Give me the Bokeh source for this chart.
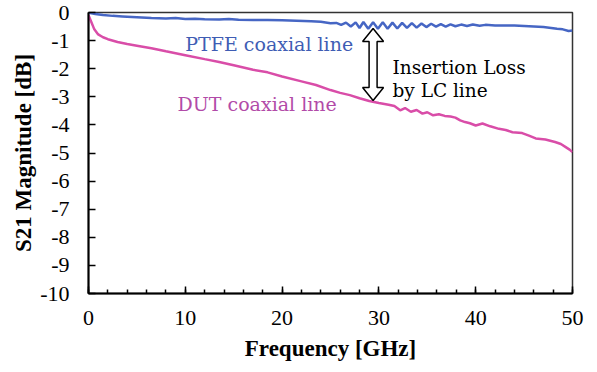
from bokeh.plotting import figure
from bokeh.models import Range1d, SingleIntervalTicker
from bokeh.core.properties import value
from bokeh.embed import file_html
from bokeh.resources import INLINE

# ---- data ----
ptfe_freq = [0, 0.3, 0.7, 1.5, 2.5, 3.5, 5, 6.5, 8, 9, 10, 11, 12, 13.5, 14.5, 15.5, 17, 18.5, 20,
             21.5, 23, 24, 25, 25.6, 26.1, 26.6, 27.1, 27.6, 28.0, 28.4, 28.9, 29.4, 29.9, 30.4,
             30.9, 31.4, 31.9, 32.4, 32.9, 33.4, 33.9, 34.4, 34.9, 35.4, 35.9, 36.4, 36.9, 37.4,
             37.9, 38.5, 39.1, 39.7, 40.4, 41, 42, 43, 44, 45, 46, 47, 47.8, 48.4, 49, 49.6, 50]
ptfe_s21 = [0, -0.03, -0.05, -0.09, -0.12, -0.14, -0.17, -0.2, -0.21, -0.2, -0.23, -0.22, -0.24,
            -0.25, -0.23, -0.26, -0.27, -0.27, -0.28, -0.29, -0.31, -0.33, -0.38, -0.37, -0.44,
            -0.36, -0.5, -0.35, -0.55, -0.34, -0.58, -0.35, -0.58, -0.35, -0.58, -0.36, -0.57,
            -0.37, -0.55, -0.38, -0.54, -0.39, -0.52, -0.4, -0.5, -0.41, -0.5, -0.42, -0.49,
            -0.43, -0.48, -0.43, -0.47, -0.44, -0.46, -0.46, -0.46, -0.48, -0.5, -0.52, -0.55,
            -0.58, -0.6, -0.66, -0.64]

dut_freq = [0, 0.3, 0.6, 1, 1.5, 2, 3, 4, 5, 6.5, 8, 10, 12, 13.5, 15, 17, 18.5, 20, 22, 23.5,
            25, 26, 27, 28, 29, 30, 31, 31.6, 32.2, 32.7, 33.3, 33.9, 34.5, 35, 35.6, 36.2, 36.8,
            37.4, 37.9, 38.4, 38.9, 39.4, 40, 40.7, 41.5, 42.4, 43.1, 43.8, 44.8, 45.5, 46.2,
            47.2, 48.2, 48.8, 49.3, 49.7, 50]
dut_s21 = [-0.1, -0.35, -0.6, -0.78, -0.88, -0.95, -1.05, -1.12, -1.18, -1.27, -1.38, -1.52,
           -1.66, -1.76, -1.88, -2.04, -2.13, -2.28, -2.45, -2.58, -2.76, -2.86, -2.94, -3.05,
           -3.15, -3.22, -3.28, -3.33, -3.48, -3.4, -3.53, -3.47, -3.6, -3.55, -3.66, -3.62,
           -3.68, -3.7, -3.74, -3.84, -3.9, -3.94, -4.02, -3.95, -4.05, -4.14, -4.18, -4.26,
           -4.29, -4.38, -4.48, -4.52, -4.61, -4.68, -4.79, -4.88, -4.97]

x_ticks = [0, 10, 20, 30, 40, 50]
y_ticks = [0, -1, -2, -3, -4, -5, -6, -7, -8, -9, -10]
y_tick_labels = ["0", "-1", "-2", "-3", "-4", "-5", "-6", "-7", "-8", "-9", "-10"]

# annotation anchors (data units)
arrow_f = 29.4
arrow_top = -0.57
arrow_bottom = -3.13

BLUE = "#4666C4"
BLUE_TXT = "#3F5DB4"
PINK = "#D94DA8"
PINK_TXT = "#B24BA8"

p = figure(width=597, height=372, output_backend="svg", toolbar_location=None,
           x_range=Range1d(0, 50), y_range=Range1d(-10, 0),
           min_border_left=88, min_border_right=25, min_border_top=12, min_border_bottom=79)
p.background_fill_color = "white"
p.border_fill_color = "white"
p.outline_line_color = "#333333"
p.outline_line_width = 1.5
p.xgrid.visible = False
p.ygrid.visible = False

xa = p.xaxis[0]
xa.ticker = SingleIntervalTicker(interval=10, num_minor_ticks=5)
xa.major_tick_in = 7
xa.major_tick_out = 0
xa.minor_tick_in = 4
xa.minor_tick_out = 0
xa.axis_line_width = 2
xa.major_tick_line_width = 1.5
xa.minor_tick_line_width = 1.5
xa.major_label_text_font = "Liberation Serif"
xa.major_label_text_font_size = "22px"
xa.major_label_text_color = "black"
xa.major_label_standoff = 17
xa.axis_label = "Frequency [GHz]"
xa.axis_label_text_font = "Liberation Serif"
xa.axis_label_text_font_style = "bold"
xa.axis_label_text_font_size = "23px"
xa.axis_label_text_color = "black"
xa.axis_label_standoff = 8

ya = p.yaxis[0]
ya.ticker = y_ticks
ya.major_label_overrides = {t: l for t, l in zip(y_ticks, y_tick_labels)}
ya.major_tick_in = 7
ya.major_tick_out = 0
ya.minor_tick_line_color = None
ya.axis_line_width = 2
ya.major_tick_line_width = 1.5
ya.major_label_text_font = "Liberation Serif"
ya.major_label_text_font_size = "22px"
ya.major_label_text_color = "black"
ya.major_label_standoff = 19
ya.axis_label = "S21 Magnitude [dB]"
ya.axis_label_text_font = "Liberation Serif"
ya.axis_label_text_font_style = "bold"
ya.axis_label_text_font_size = "23px"
ya.axis_label_text_color = "black"
ya.axis_label_standoff = 1

p.line(ptfe_freq, ptfe_s21, line_color=BLUE, line_width=2.5)
p.line(dut_freq, dut_s21, line_color=PINK, line_width=2.5)

# hollow double-headed arrow (pixel sizes converted to data units)
px_x = 50 / 484.0
px_y = 10 / 281.0
hw_head = 10.5 * px_x
hw_shaft = 4 * px_x
h_len = 13 * px_y
ax = [arrow_f, arrow_f + hw_head, arrow_f + hw_shaft, arrow_f + hw_shaft, arrow_f + hw_head,
      arrow_f, arrow_f - hw_head, arrow_f - hw_shaft, arrow_f - hw_shaft, arrow_f - hw_head]
ay = [arrow_top, arrow_top - h_len, arrow_top - h_len, arrow_bottom + h_len, arrow_bottom + h_len,
      arrow_bottom, arrow_bottom + h_len, arrow_bottom + h_len, arrow_top - h_len, arrow_top - h_len]
p.patch(ax, ay, fill_color="white", line_color="black", line_width=1.5)

serif = value("DejaVu Serif")
p.text(x=[10.0], y=[-1.11], text=["PTFE coaxial line"], text_font=serif,
       text_font_size="19px", text_color=BLUE_TXT, text_baseline="alphabetic", text_align="left")
p.text(x=[9.2], y=[-3.27], text=["DUT coaxial line"], text_font=serif,
       text_font_size="19px", text_color=PINK_TXT, text_baseline="alphabetic", text_align="left")
p.text(x=[31.4], y=[-1.95], text=["Insertion Loss"], text_font=serif,
       text_font_size="18.5px", text_color="black", text_baseline="alphabetic", text_align="left")
p.text(x=[31.4], y=[-2.78], text=["by LC line"], text_font=serif,
       text_font_size="18.5px", text_color="black", text_baseline="alphabetic", text_align="left")

open("out.html", "w").write(file_html(p, INLINE))
